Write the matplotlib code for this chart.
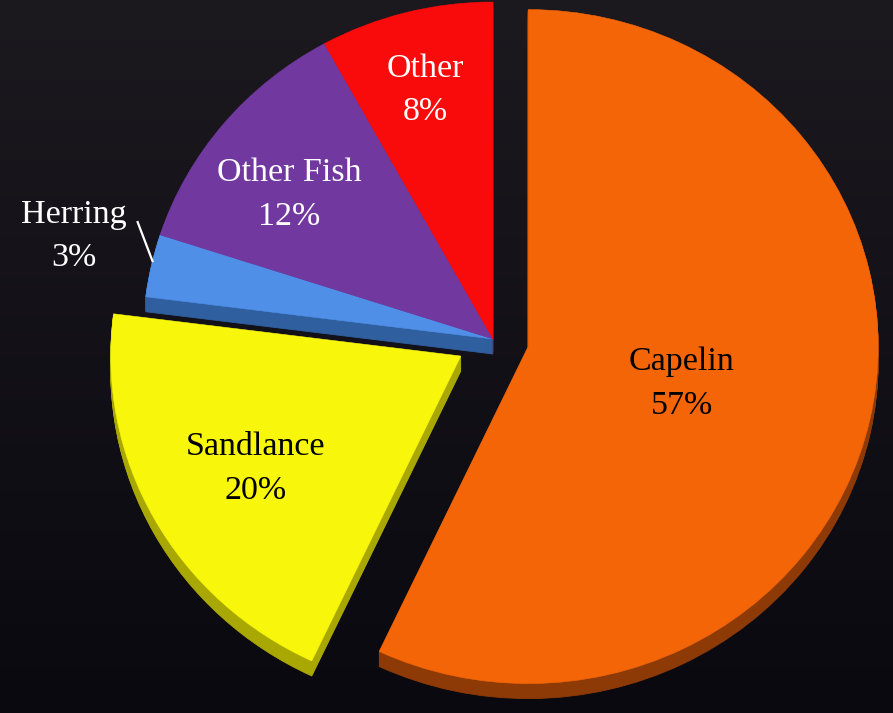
import numpy as np
import matplotlib.pyplot as plt
from matplotlib.colors import LinearSegmentedColormap

# diet composition
prey = ['Capelin', 'Sandlance', 'Herring', 'Other Fish', 'Other']
share = [57, 20, 3, 12, 8]
face_cols = ['#F36507', '#F7F60B', '#4F8FE8', '#7139A0', '#F90B0B']
side_cols = ['#8E3A06', '#A9A702', '#2F5F9F', '#45205F', '#8A0606']
text_cols = ['black', 'black', 'white', 'white', 'white']
explode = [0.103, 0.105, 0, 0, 0]
label_r = [0.45, 0.67, 1.24, 0.73, 0.775]
label_turn = [0, 0, -2.2, 2.6, 0]   # degrees off the wedge mid angle

W, H = 893, 713
cx, cy = 493, 339          # pie centre in pixels (from top-left)
rx, ry = 350, 337          # pixel size of one data unit
depth = 15                 # extrusion in pixels

fig = plt.figure(figsize=(W / 100, H / 100), dpi=100)
ax = fig.add_axes([0, 0, 1, 1])
xlim = (-cx / rx, (W - cx) / rx)
ylim = (-(H - cy) / ry, cy / ry)

# dark vertical background gradient
bg = LinearSegmentedColormap.from_list('bg', ['#1c191f', '#0a0910'])
grad = np.linspace(0, 1, 256).reshape(-1, 1)
ax.imshow(grad, cmap=bg, extent=(*xlim, *ylim), aspect='auto', zorder=0)

# side faces: stacked darker copies shifted downward
# (back slices go lowest so the front cut faces cover them)
for k in range(depth, 0, -1):
    rims, _ = ax.pie(share, explode=explode, colors=side_cols, startangle=90,
                     counterclock=False, center=(0, -k / ry),
                     wedgeprops=dict(linewidth=0.6))
    for i, (w, c) in enumerate(zip(rims, side_cols)):
        w.set_edgecolor(c)
        w.set_zorder(1 if i >= 3 else 2)

# top faces
tops, _ = ax.pie(share, explode=explode, colors=face_cols, startangle=90,
                 counterclock=False, wedgeprops=dict(linewidth=0.4))
for w, c in zip(tops, face_cols):
    w.set_edgecolor(c)
    w.set_zorder(3)

# labels placed along each wedge's mid angle
for w, name, pct, col, r, turn in zip(tops, prey, share, text_cols,
                                      label_r, label_turn):
    mid = np.deg2rad((w.theta1 + w.theta2) / 2 + turn)
    x0, y0 = w.center
    ax.text(x0 + r * np.cos(mid), y0 + r * np.sin(mid) - 4 / ry,
            f'{name}\n{pct}%', ha='center', va='center', color=col,
            fontsize=24.5, family='Liberation Serif', linespacing=1.55,
            zorder=5)

# leader line for the small Herring slice
a1 = np.deg2rad(166.8)
a2 = np.deg2rad(161.0)
ax.plot([0.998 * np.cos(a1), 1.075 * np.cos(a2)],
        [0.998 * np.sin(a1), 1.075 * np.sin(a2)],
        color='white', lw=1.6, zorder=5, solid_capstyle='butt')

ax.set_xlim(*xlim)
ax.set_ylim(*ylim)
ax.set_aspect('auto')
ax.axis('off')

fig.savefig('out.png', dpi=100)
